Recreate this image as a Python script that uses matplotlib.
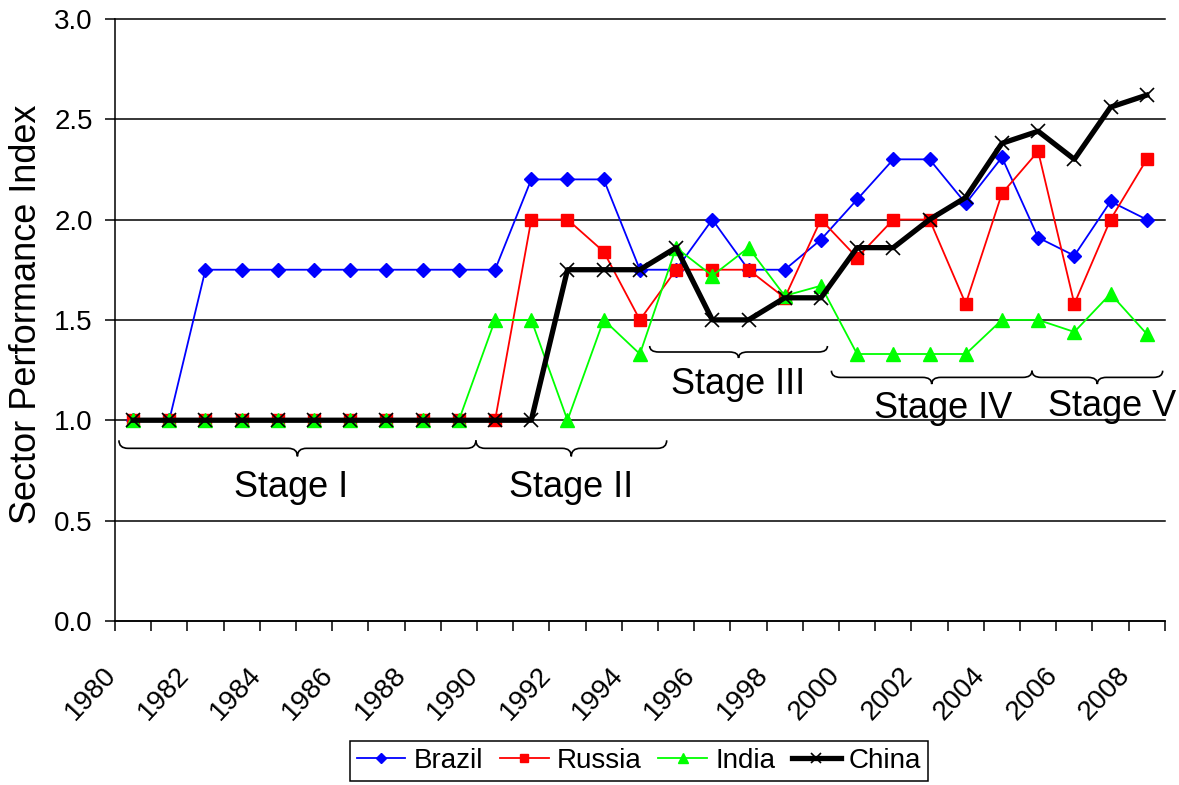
import matplotlib
matplotlib.use("Agg")
import matplotlib.pyplot as plt
from matplotlib.path import Path
from matplotlib.patches import PathPatch
from matplotlib.ticker import FixedLocator, FormatStrFormatter
from matplotlib.transforms import ScaledTranslation

plt.rcParams['font.family'] = ['Liberation Sans', 'DejaVu Sans']

# ---- data -------------------------------------------------------------
years = list(range(1980, 2009))

brazil = [1.0, 1.0, 1.75, 1.75, 1.75, 1.75, 1.75, 1.75, 1.75, 1.75, 1.75,
          2.2, 2.2, 2.2, 1.75, 1.75, 2.0, 1.75, 1.75, 1.9,
          2.1, 2.3, 2.3, 2.08, 2.31, 1.91, 1.82, 2.09, 2.0]
russia = [1.0, 1.0, 1.0, 1.0, 1.0, 1.0, 1.0, 1.0, 1.0, 1.0, 1.0,
          2.0, 2.0, 1.84, 1.5, 1.75, 1.75, 1.75, 1.61, 2.0,
          1.81, 2.0, 2.0, 1.58, 2.13, 2.34, 1.58, 2.0, 2.3]
india = [1.0, 1.0, 1.0, 1.0, 1.0, 1.0, 1.0, 1.0, 1.0, 1.0, 1.5,
         1.5, 1.0, 1.5, 1.33, 1.86, 1.72, 1.86, 1.62, 1.67,
         1.33, 1.33, 1.33, 1.33, 1.5, 1.5, 1.44, 1.63, 1.43]
china = [1.0, 1.0, 1.0, 1.0, 1.0, 1.0, 1.0, 1.0, 1.0, 1.0, 1.0,
         1.0, 1.75, 1.75, 1.75, 1.86, 1.5, 1.5, 1.61, 1.61,
         1.86, 1.86, 2.0, 2.11, 2.38, 2.44, 2.30, 2.56, 2.62]

series_names = ['Brazil', 'Russia', 'India', 'China']
label_years = years[::2]
y_ticks = [0.0, 0.5, 1.0, 1.5, 2.0, 2.5, 3.0]

# development stages: (name, first year, last year, brace height, tip height, label x, label baseline)
stages = [
    ('Stage I',   1979.61, 1989.47, 0.90, 0.82, 1984.36, 0.62),
    ('Stage II',  1989.47, 1994.74, 0.90, 0.82, 1992.11, 0.62),
    ('Stage III', 1994.27, 1999.18, 1.37, 1.31, 1996.72, 1.13),
    ('Stage IV',  1999.29, 2004.83, 1.247, 1.18, 2002.38, 1.01),
    ('Stage V',   2004.83, 2008.44, 1.247, 1.18, 2007.04, 1.02),
]

# ---- figure -----------------------------------------------------------
fig = plt.figure(figsize=(11.79, 7.85), dpi=100)
fig.subplots_adjust(left=0.0975, right=0.988, top=0.976, bottom=0.209)
ax = fig.add_subplot(111)

x = [y - years[0] for y in years]

styles = {
    'Brazil': dict(color='#0000FF', marker='D', ms=7.3, lw=1.3, mec='#0000FF'),
    'Russia': dict(color='#FF0000', marker='s', ms=8.0, lw=1.3, mec='#FF0000'),
    'India':  dict(color='#00FF00', marker='^', ms=9.5, lw=1.3, mec='#00FF00'),
    'China':  dict(color='black', marker='x', ms=9.5, mew=1.2, lw=3.8),
}
values = {'Brazil': brazil, 'Russia': russia, 'India': india, 'China': china}

handles = []
for i, name in enumerate(series_names):
    h, = ax.plot(x, values[name], label=name, zorder=3 + i, clip_on=False,
                 **styles[name])
    handles.append(h)

# axes limits and ticks
ax.set_xlim(-0.5, len(years) - 0.5)
ax.set_ylim(0, 3.0)

ax.yaxis.set_major_locator(FixedLocator(y_ticks))
ax.yaxis.set_major_formatter(FormatStrFormatter('%.1f'))
ax.tick_params(axis='y', direction='out', length=7, width=1.1, pad=9,
               labelsize=20, color='black')

ax.xaxis.set_major_locator(FixedLocator([y - years[0] for y in label_years]))
ax.set_xticklabels([str(y) for y in label_years])
ax.xaxis.set_minor_locator(FixedLocator([i - 0.5 for i in range(len(years) + 1)]))
ax.tick_params(axis='x', which='major', length=0, pad=0, labelsize=20)
ax.tick_params(axis='x', which='minor', direction='out', length=7, width=1.1,
               color='black')

shift = ScaledTranslation(-0.21, -0.50, fig.dpi_scale_trans)
for lab in ax.get_xticklabels():
    lab.set_rotation(47)
    lab.set_rotation_mode('anchor')
    lab.set_ha('right')
    lab.set_va('center')
    lab.set_transform(lab.get_transform() + shift)

# gridlines and frame
ax.yaxis.grid(True, color='black', lw=1.1)
ax.set_axisbelow(True)
for gl in ax.get_ygridlines():
    gl.set_clip_on(False)
for side in ('top', 'right'):
    ax.spines[side].set_visible(False)
for side in ('left', 'bottom'):
    ax.spines[side].set_linewidth(1.1)
    ax.spines[side].set_color('black')

ax.set_ylabel('Sector Performance Index', fontsize=26)
ax.yaxis.set_label_coords(-0.0675, 0.51)


def curly_brace(ax, x0, x1, y_end, y_tip, r=0.25):
    """Draw a downward-pointing curly brace between x0 and x1."""
    xm = (x0 + x1) / 2.0
    ym = (y_end + y_tip) / 2.0
    verts = [(x0, y_end), (x0, ym), (x0 + r, ym), (xm - r, ym),
             (xm, ym), (xm, y_tip), (xm, ym), (xm + r, ym),
             (x1 - r, ym), (x1, ym), (x1, y_end)]
    codes = [Path.MOVETO, Path.CURVE3, Path.CURVE3, Path.LINETO,
             Path.CURVE3, Path.CURVE3, Path.CURVE3, Path.CURVE3,
             Path.LINETO, Path.CURVE3, Path.CURVE3]
    patch = PathPatch(Path(verts, codes), fill=False, ec='black', lw=1.2,
                      zorder=10, clip_on=False)
    ax.add_patch(patch)


for name, y0, y1, yb, yt, lx, ly in stages:
    curly_brace(ax, y0 - years[0], y1 - years[0], yb, yt)
    ax.text(lx - years[0], ly, name, fontsize=26, ha='center', va='baseline',
            zorder=11)

leg = fig.legend(handles=handles, labels=series_names, loc='upper center',
                 bbox_to_anchor=(0.542, 1 - 741 / 785), ncol=4, fontsize=20,
                 frameon=True, fancybox=False, edgecolor='black',
                 framealpha=1, handlelength=1.75, handletextpad=0.3,
                 columnspacing=0.6, markerscale=0.75, borderpad=0.25,
                 borderaxespad=0)
leg.get_frame().set_linewidth(1.1)

fig.savefig('out.png', dpi=100)
